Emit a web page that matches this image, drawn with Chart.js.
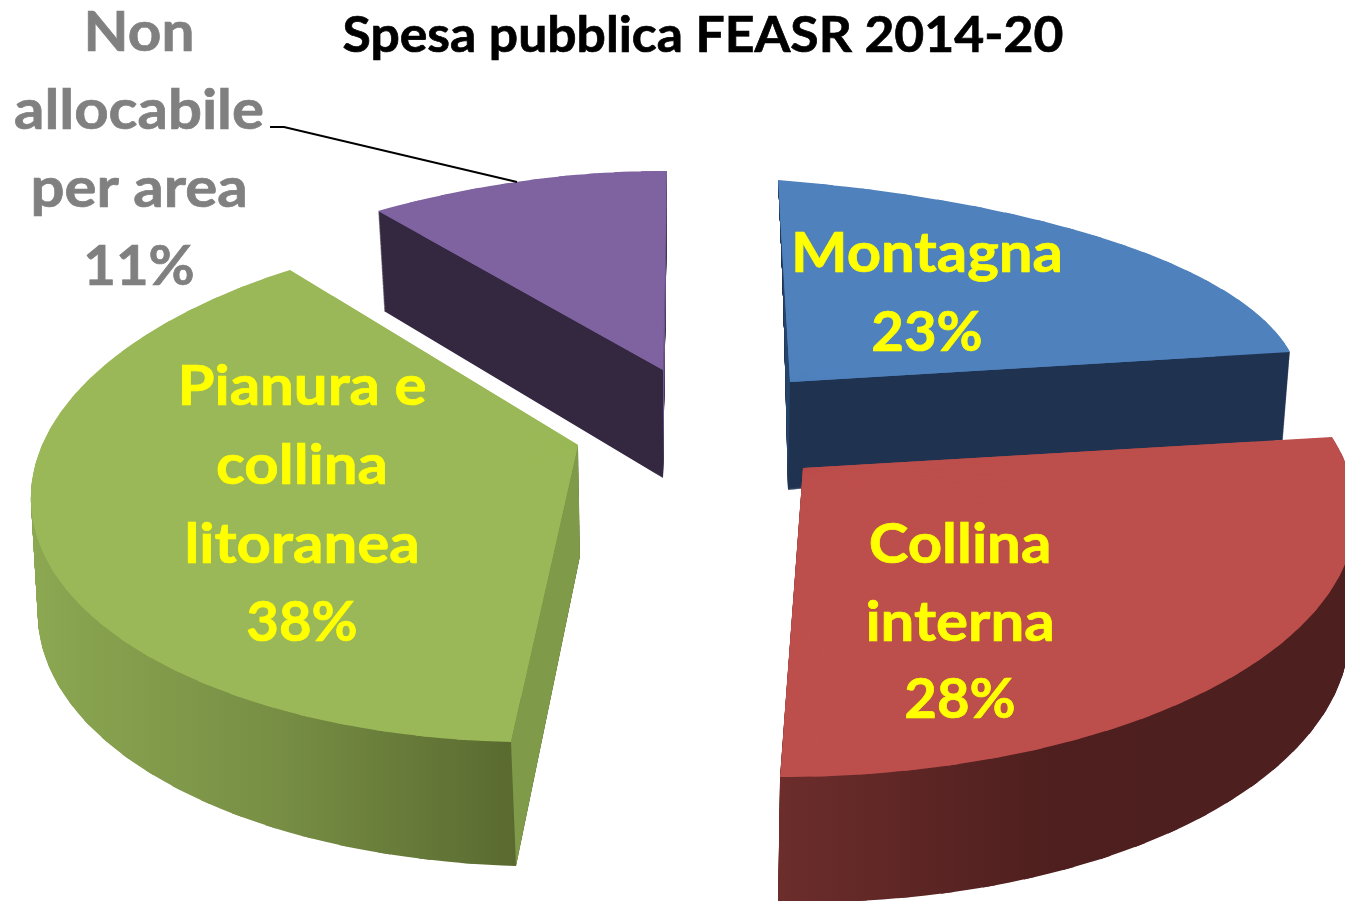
<!DOCTYPE html>
<html lang="it">
<head>
<meta charset="UTF-8">
<title>Spesa pubblica FEASR 2014-20</title>
<script src="https://cdn.jsdelivr.net/npm/chart.js"></script>
<style>
    html, body { margin: 0; padding: 0; background: #fff; }
    #wrap { width: 1345px; height: 901px; overflow: hidden; }
</style>
</head>
<body>
<div id="wrap"><canvas id="pie" width="1345" height="901"></canvas></div>
<script>
// values
const categories = ['Montagna', 'Collina interna', 'Pianura e collina litoranea', 'Non allocabile per area'];
const shares = [23, 28, 38, 11];
const titleText = 'Spesa pubblica FEASR 2014-20';

const topColors = ['#4f81bd', '#bc4e4b', '#9ab857', '#7f62a0'];

// where each exploded slice lands on the page: [apex, arc start, arc end, arc middle], top face then bottom face
const faces = [
    { top: [[790, 382], [778, 180], [1290, 352], [1132, 248]], bottom: [[788, 490], [783, 285], [1283, 440], [1127, 355]] },
    { top: [[803, 468], [1332, 437], [780, 777], [1262, 658]], bottom: [[803, 580], [1322, 545], [778, 902], [1258, 782]] },
    { top: [[578, 445], [511, 742], [290, 270], [35, 530]], bottom: [[580, 556], [516, 866], [296, 380], [41, 642]] },
    { top: [[663, 370], [378, 211], [667, 171], [530, 180]], bottom: [[663, 478], [384, 311], [666, 280], [533, 290]] }
];
// side wall shading, left to right
const sideStops = [
    [[778, '#1f3350'], [1290, '#1f3350']],
    [[778, '#6c2d2b'], [1050, '#4e1f1e'], [1345, '#4d1f1f']],
    [[30, '#8ca852'], [280, '#778e44'], [515, '#5a6a30']],
    [[378, '#33283f'], [670, '#33283f']]
];
// flat cut walls: slice, which arc end (1 start, 2 end), colour
const cutWalls = [[0, 1, '#264369'], [2, 1, '#7f9a49'], [3, 2, '#6f5590']];

const drawOrder = [3, 2, 0, 1];
const depthSteps = 130;
const segmentAngle = 4 * Math.PI / 180;

const yellow = '#ffff00';
const grey = '#808080';
const labelBlocks = [
    { lines: ['Montagna', '23%'], x: 927, y: [272, 351], color: yellow },
    { lines: ['Collina', 'interna', '28%'], x: 960, y: [563, 641, 718], color: yellow },
    { lines: ['Pianura e', 'collina', 'litoranea', '38%'], x: 302, y: [405, 484, 563, 641], color: yellow },
    { lines: ['Non', 'allocabile', 'per area', '11%'], x: 139, y: [51, 129, 207, 285], color: grey }
];

function lerpFace(a, b, t) {
    return a.map((p, i) => [p[0] + (b[i][0] - p[0]) * t, p[1] + (b[i][1] - p[1]) * t]);
}

// homography from the unit disc to the page, the pie is seen in perspective
function solveHomography(src, dst) {
    const A = [];
    src.forEach((s, i) => {
        const [x, y] = s, [u, v] = dst[i];
        A.push([x, y, 1, 0, 0, 0, -u * x, -u * y, u]);
        A.push([0, 0, 0, x, y, 1, -v * x, -v * y, v]);
    });
    for (let c = 0; c < 8; c++) {
        let best = c;
        for (let r = c + 1; r < 8; r++) if (Math.abs(A[r][c]) > Math.abs(A[best][c])) best = r;
        [A[c], A[best]] = [A[best], A[c]];
        for (let r = 0; r < 8; r++) {
            if (r === c) continue;
            const k = A[r][c] / A[c][c];
            for (let j = c; j < 9; j++) A[r][j] -= k * A[c][j];
        }
    }
    const h = A.map((row, i) => row[8] / row[i]);
    return (x, y) => {
        const w = h[6] * x + h[7] * y + 1;
        return [(h[0] * x + h[1] * y + h[2]) / w, (h[3] * x + h[4] * y + h[5]) / w];
    };
}

const unit = a => [Math.cos(a), Math.sin(a)];

// affine that sends the chart's wedge between two angles onto apex, pa, pb
function wedgeMatrix(arc, apex, pa, pb, angA, angB) {
    const u1 = unit(angA), u2 = unit(angB);
    const v1 = [pa[0] - apex[0], pa[1] - apex[1]];
    const v2 = [pb[0] - apex[0], pb[1] - apex[1]];
    const det = u1[0] * u2[1] - u2[0] * u1[1];
    const r = arc.outerRadius;
    const a = (v1[0] * u2[1] - v2[0] * u1[1]) / det / r;
    const c = (v2[0] * u1[0] - v1[0] * u2[0]) / det / r;
    const b = (v1[1] * u2[1] - v2[1] * u1[1]) / det / r;
    const d = (v2[1] * u1[0] - v1[1] * u2[0]) / det / r;
    return { a, b, c, d, e: apex[0] - a * arc.x - c * arc.y, f: apex[1] - b * arc.x - d * arc.y };
}

// gradient with vertical bands on the page, given in the arc's own coordinates
function pageGradient(ctx, m, stops) {
    const x0 = stops[0][0], x1 = stops[stops.length - 1][0];
    const n = m.a * m.a + m.c * m.c;
    const s0 = (x0 - m.e) / n, s1 = (x1 - m.e) / n;
    const g = ctx.createLinearGradient(s0 * m.a, s0 * m.c, s1 * m.a, s1 * m.c);
    stops.forEach(s => g.addColorStop((s[0] - x0) / (x1 - x0), s[1]));
    return g;
}

function setAngles(arc, a0, a1) {
    arc.startAngle = a0;
    arc.endAngle = a1;
    arc.circumference = a1 - a0;
}

// one face of a slice, cut in small wedges so each follows the perspective
function drawFace(ctx, arc, face, start, end, stops) {
    const mid = (start + end) / 2;
    const H = solveHomography([[0, 0], unit(start), unit(end), unit(mid)], face);
    const n = Math.ceil((end - start) / segmentAngle);
    const keep = arc.options;
    for (let k = 0; k < n; k++) {
        const a0 = start + (end - start) * k / n;
        const a1 = start + (end - start) * (k + 1) / n;
        const ua = unit(a0), ub = unit(a1);
        const m = wedgeMatrix(arc, face[0], H(ua[0], ua[1]), H(ub[0], ub[1]), a0, a1);
        setAngles(arc, a0, k < n - 1 ? a1 + 0.02 : a1);
        arc.options = stops ? Object.assign({}, keep, { backgroundColor: pageGradient(ctx, m, stops) }) : keep;
        ctx.save();
        ctx.transform(m.a, m.b, m.c, m.d, m.e, m.f);
        arc.draw(ctx);
        ctx.restore();
    }
    arc.options = keep;
    setAngles(arc, start, end);
}

// plain wedge well inside the top face, so the seams between small wedges do not show
function drawUnderlay(ctx, arc, face, start, end) {
    const [apex, p1, p2] = lerpFace(face.map(() => face[0]), face, 0.85);
    const m = wedgeMatrix(arc, apex, p1, p2, start, end);
    ctx.save();
    ctx.transform(m.a, m.b, m.c, m.d, m.e, m.f);
    arc.draw(ctx);
    ctx.restore();
}

function drawLine(ctx, text, x, y, sx) {
    ctx.save();
    ctx.translate(x, y);
    ctx.scale(sx, 1);
    ctx.fillText(text, 0, 0);
    ctx.strokeText(text, 0, 0);
    ctx.restore();
}

const slicePlugin = {
    id: 'slices3d',
    beforeDatasetsDraw(chart) {
        const ctx = chart.ctx;
        const arcs = chart.getDatasetMeta(0).data;
        drawOrder.forEach(i => {
            const f = faces[i], arc = arcs[i];
            const start = arc.startAngle, end = arc.endAngle;
            for (let s = depthSteps; s > 0; s--) {
                drawFace(ctx, arc, lerpFace(f.top, f.bottom, s / depthSteps), start, end, sideStops[i]);
            }
            cutWalls.filter(w => w[0] === i).forEach(w => {
                ctx.fillStyle = w[2];
                ctx.beginPath();
                ctx.moveTo(f.top[0][0], f.top[0][1]);
                ctx.lineTo(f.top[w[1]][0], f.top[w[1]][1]);
                ctx.lineTo(f.bottom[w[1]][0], f.bottom[w[1]][1]);
                ctx.lineTo(f.bottom[0][0], f.bottom[0][1]);
                ctx.closePath();
                ctx.fill();
            });
            drawUnderlay(ctx, arc, f.top, start, end);
            drawFace(ctx, arc, f.top, start, end, null);
        });
        return false;
    },
    afterDraw(chart) {
        const ctx = chart.ctx;
        ctx.save();
        // leader line of the grey label
        ctx.strokeStyle = '#000';
        ctx.lineWidth = 1.8;
        ctx.beginPath();
        ctx.moveTo(270, 127);
        ctx.lineTo(284, 127);
        ctx.lineTo(517, 182);
        ctx.stroke();

        ctx.textAlign = 'center';
        ctx.textBaseline = 'alphabetic';
        ctx.lineWidth = 0.7;
        ctx.font = 'bold 50px Lato';
        ctx.fillStyle = ctx.strokeStyle = '#000';
        drawLine(ctx, titleText, 703, 52, 1.033);
        ctx.font = 'bold 56px Lato';
        labelBlocks.forEach(b => {
            ctx.fillStyle = ctx.strokeStyle = b.color;
            b.lines.forEach((t, i) => drawLine(ctx, t, b.x, b.y[i], /\d/.test(t) ? 1.005 : (t === 'Non' ? 1.045 : 1.07)));
        });
        ctx.restore();
    }
};

new Chart(document.getElementById('pie'), {
    type: 'pie',
    data: {
        labels: categories,
        datasets: [{ data: shares, backgroundColor: topColors, borderWidth: 0 }]
    },
    options: {
        responsive: false,
        animation: false,
        plugins: { legend: { display: false }, tooltip: { enabled: false } }
    },
    plugins: [slicePlugin]
});
</script>
</body>
</html>
